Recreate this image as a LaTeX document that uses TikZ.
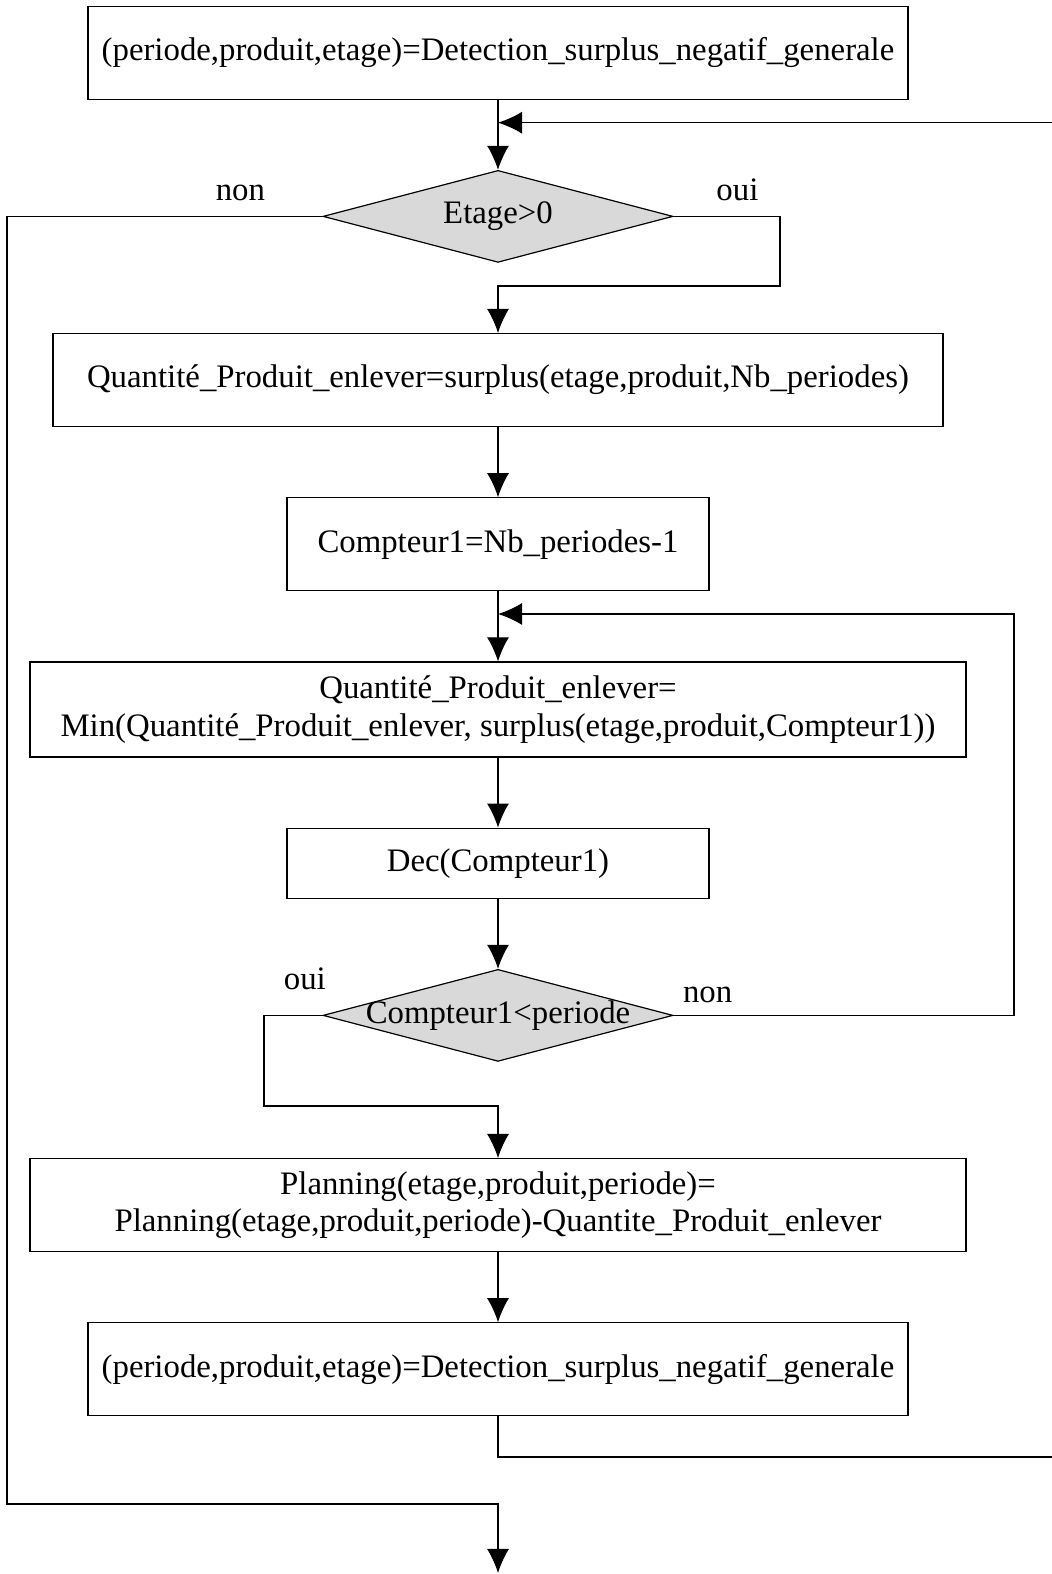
\documentclass[tikz,border=0pt]{standalone}
\usepackage{fontspec}
\setmainfont{Liberation Serif}
\usetikzlibrary{shapes,arrows.meta,positioning}
\newcommand{\flowfont}{\fontsize{16.4pt}{18.8pt}\selectfont}

\begin{document}
\begin{tikzpicture}[x=0.5pt, y=0.5pt, node distance=35pt, line width=0.6pt]
    % Styles
    \tikzstyle{block} = [rectangle, draw, fill=white, align=center, minimum height=46.5pt, font=\flowfont]
    \tikzstyle{decision} = [diamond, draw, fill=gray!30, aspect=3.8, inner xsep=-4pt, inner ysep=-2pt, minimum width=175pt, minimum height=46pt, font=\flowfont]
    \tikzstyle{line} = [draw, -{Latex[length=12pt, width=11pt]}]
    \tikzstyle{lbl} = [inner sep=0pt, font=\flowfont]

    \useasboundingbox (0,0) rectangle (1052,1574);

    % Nodes
    \node [block, minimum width=410pt] (detect) at (498,1521.3) {(periode,produit,etage)=Detection\_surplus\_negatif\_generale};
    \node [decision, below=of detect] (etage) {Etage>0};
    \node [block, minimum width=445pt, below=of etage] (quantite) {Quantité\_Produit\_enlever=surplus(etage,produit,Nb\_periodes)};
    \node [block, minimum width=211pt, below=of quantite] (init) {Compteur1=Nb\_periodes-1};
    \node [block, minimum width=468pt, minimum height=47.5pt, below=of init] (minimum) {Quantité\_Produit\_enlever=\\Min(Quantité\_Produit\_enlever, surplus(etage,produit,Compteur1))};
    \node [block, minimum width=211pt, minimum height=35pt, below=of minimum] (dec) {Dec(Compteur1)};
    \node [decision, below=of dec] (test) {Compteur1<periode};
    \node [block, minimum width=468pt, below=48pt of test] (planning) {Planning(etage,produit,periode)=\\Planning(etage,produit,periode)-Quantite\_Produit\_enlever};
    \node [block, minimum width=410pt, below=of planning] (detect2) {(periode,produit,etage)=Detection\_surplus\_negatif\_generale};

    % Corners
    \coordinate (retour) at (1052,1451.3);
    \coordinate (sortie) at (1052,117);
    \coordinate (oui1) at (780,1288);
    \coordinate (non1) at (7,70);
    \coordinate (fin) at (498,1);
    \coordinate (non2) at (1014,960);
    \coordinate (oui2) at (264,468);

    % Edges
    \path [line] (detect) -- (etage);
    \path [line] (retour) -- (detect.south |- retour);
    \path [line] (etage.east) -| node[lbl, pos=0.3, above=7.25pt] {oui} (oui1) -| (quantite);
    \path [line] (etage.west) -| node[lbl, pos=0.13, above=7.25pt] {non} (non1) -| (fin);
    \path [line] (quantite) -- (init);
    \path [line] (init) -- (minimum);
    \path [line] (minimum) -- (dec);
    \path [line] (dec) -- (test);
    \path [line] (test.east) -| node[lbl, pos=0.05, above=6pt] {non} (non2) -- (init.south |- non2);
    \path [line] (test.west) -| node[lbl, pos=0.15, above=12.5pt] {oui} (oui2) -| (planning);
    \path [line] (planning) -- (detect2);
    \path [draw] (detect2) |- (sortie);
\end{tikzpicture}
\end{document}
